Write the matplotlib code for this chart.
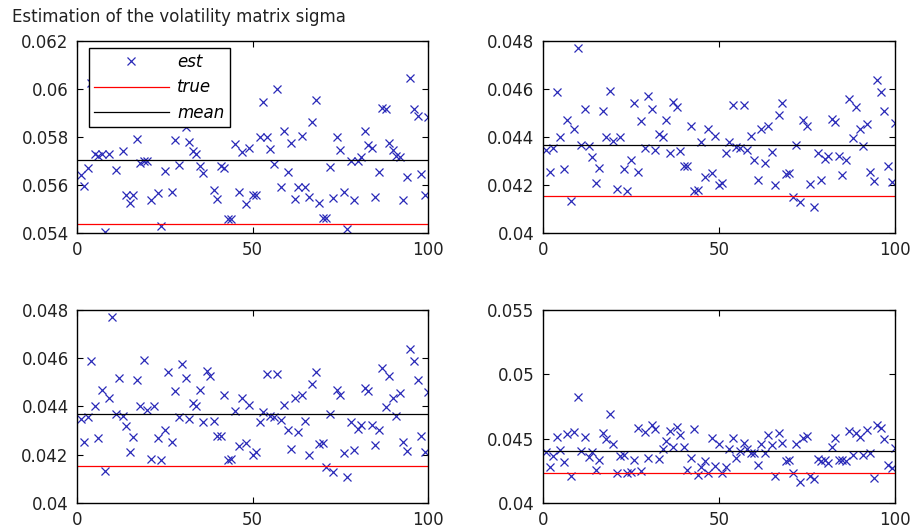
import numpy as np
import matplotlib
matplotlib.use('Agg')
import matplotlib.pyplot as plt

plt.rcParams['font.family'] = ['DejaVu Sans']
plt.rcParams['font.size'] = 12
plt.rcParams['xtick.direction'] = 'in'
plt.rcParams['ytick.direction'] = 'in'
plt.rcParams['xtick.top'] = True
plt.rcParams['ytick.right'] = True

# estimates (index 1..100)
est_a = [0.05642, 0.05596, 0.05669, 0.06025, 0.0573, 0.0572, 0.0573, 0.05403, 0.0573, 0.0591,
         0.05663, 0.0590, 0.05743, 0.05558, 0.05524, 0.05558, 0.0579, 0.0569, 0.0570, 0.0570,
         0.05538, 0.0595, 0.05565, 0.05429, 0.0566, 0.0600, 0.0557, 0.05788, 0.05683, 0.0593,
         0.05843, 0.0578, 0.0574, 0.0573, 0.0568, 0.0565, 0.0592, 0.0598, 0.0558, 0.0554,
         0.0568, 0.0567, 0.0546, 0.0546, 0.0577, 0.0557, 0.05739, 0.0552, 0.05753, 0.05558,
         0.0556, 0.05801, 0.05947, 0.05801, 0.05749, 0.05686, 0.05999, 0.0559, 0.05826, 0.05655,
         0.05774, 0.05542, 0.05593, 0.05804, 0.05593, 0.05551, 0.05864, 0.05954, 0.05526, 0.05461,
         0.05461, 0.05674, 0.05545, 0.05801, 0.05746, 0.0557, 0.05415, 0.0570, 0.05538, 0.0570,
         0.05715, 0.05826, 0.05767, 0.05753, 0.05551, 0.05655, 0.0592, 0.05918, 0.05774, 0.05746,
         0.05721, 0.05717, 0.05538, 0.05635, 0.06045, 0.05915, 0.05888, 0.05644, 0.05558, 0.05882]

est_b = [0.04347, 0.04254, 0.04355, 0.04586, 0.0440, 0.04268, 0.04469, 0.04133, 0.04434, 0.04771,
         0.04368, 0.04517, 0.04361, 0.04317, 0.0421, 0.04273, 0.04508, 0.04402, 0.0459, 0.04383,
         0.04183, 0.04402, 0.04268, 0.04177, 0.04303, 0.04541, 0.04254, 0.04465, 0.04355, 0.04573,
         0.04516, 0.04347, 0.04414, 0.04402, 0.04469, 0.04335, 0.04547, 0.04525, 0.04341, 0.04278,
         0.04278, 0.04445, 0.04177, 0.04180, 0.0438, 0.04234, 0.04434, 0.0425, 0.04405, 0.0420,
         0.0421, 0.04333, 0.04378, 0.04532, 0.04360, 0.04355, 0.04532, 0.04344, 0.04405, 0.04303,
         0.04223, 0.04434, 0.04293, 0.04448, 0.04338, 0.04199, 0.04493, 0.04541, 0.04245, 0.0425,
         0.04151, 0.04366, 0.0413, 0.04469, 0.04448, 0.04205, 0.04109, 0.04335, 0.04219, 0.04308,
         0.04322, 0.04476, 0.04462, 0.04322, 0.04241, 0.04303, 0.0456, 0.04396, 0.04525, 0.04434,
         0.04361, 0.04455, 0.04254, 0.04216, 0.04638, 0.04586, 0.0451, 0.04278, 0.04213, 0.04458]

est_c = [0.04399, 0.04283, 0.04361, 0.04508, 0.04413, 0.04315, 0.04537, 0.04206, 0.04547, 0.0482,
         0.04405, 0.04508, 0.04353, 0.04399, 0.04258, 0.04335, 0.04546, 0.04495, 0.04688, 0.04459,
         0.04232, 0.04361, 0.04374, 0.04232, 0.04237, 0.0433, 0.0458, 0.04245, 0.04554, 0.04348,
         0.04605, 0.04572, 0.0434, 0.04417, 0.04477, 0.04562, 0.04438, 0.04592, 0.04528, 0.04438,
         0.04258, 0.04348, 0.04572, 0.04219, 0.04283, 0.04322, 0.04232, 0.04507, 0.04289, 0.04456,
         0.04232, 0.04283, 0.04417, 0.04507, 0.04348, 0.04407, 0.04464, 0.04417, 0.04386, 0.04386,
         0.04296, 0.04459, 0.04386, 0.04528, 0.04451, 0.04211, 0.04546, 0.04469, 0.04322, 0.04335,
         0.04232, 0.04459, 0.0416, 0.04502, 0.0452, 0.04206, 0.04185, 0.0434, 0.04322, 0.04335,
         0.04314, 0.04433, 0.04507, 0.0433, 0.0433, 0.04322, 0.04562, 0.04374, 0.04546, 0.04515,
         0.04374, 0.04567, 0.04386, 0.04193, 0.04605, 0.0458, 0.04495, 0.04296, 0.0427, 0.04425]

panel_est = [est_a, est_b, est_b, est_c]
true_vals = [0.05436, 0.04155, 0.04155, 0.04236]
mean_vals = [0.05704, 0.04368, 0.04368, 0.04404]
y_ticks = [[0.054, 0.056, 0.058, 0.06, 0.062],
           [0.04, 0.042, 0.044, 0.046, 0.048],
           [0.04, 0.042, 0.044, 0.046, 0.048],
           [0.04, 0.045, 0.05, 0.055]]
x_ticks = [0, 50, 100]

rects = [[0.0841, 0.5595, 0.3832, 0.3629],
         [0.5925, 0.5595, 0.3846, 0.3629],
         [0.0841, 0.0491, 0.3832, 0.3658],
         [0.5925, 0.0491, 0.3846, 0.3658]]

fig = plt.figure(figsize=(9.16, 5.29), dpi=100)

for k in range(4):
    ax = fig.add_axes(rects[k])
    est = panel_est[k]
    idx = np.arange(1, len(est) + 1)
    ax.plot(idx, est, 'x', color='#2a2ab8', markersize=6, markeredgewidth=0.9, label='est')
    ax.plot([0, 100], [true_vals[k], true_vals[k]], color='red', linewidth=0.9, label='true')
    ax.plot([0, 100], [mean_vals[k], mean_vals[k]], color='black', linewidth=0.9, label='mean')
    ax.set_xlim(0, 100)
    ax.set_ylim(y_ticks[k][0], y_ticks[k][-1])
    ax.set_xticks(x_ticks)
    ax.set_xticklabels(['%g' % t for t in x_ticks])
    ax.set_yticks(y_ticks[k])
    ax.set_yticklabels(['%g' % t for t in y_ticks[k]])
    ax.tick_params(length=4, width=0.8, pad=6, colors='black', labelcolor='#222222')
    for s in ax.spines.values():
        s.set_linewidth(1.0)
    if k == 0:
        leg = ax.legend(loc='upper left', bbox_to_anchor=(0.034, 0.964), borderaxespad=0,
                        fancybox=False, framealpha=1, edgecolor='black', handlelength=4.5,
                        labelspacing=0.45, borderpad=0.3, handletextpad=0.5,
                        prop={'style': 'italic', 'size': 12})
        leg.get_frame().set_linewidth(1.0)

fig.text(12 / 916, 1 - 17 / 529, 'Estimation of the volatility matrix sigma',
         fontsize=12, va='center', ha='left', color='#222222')

plt.savefig('out.png', dpi=100)
